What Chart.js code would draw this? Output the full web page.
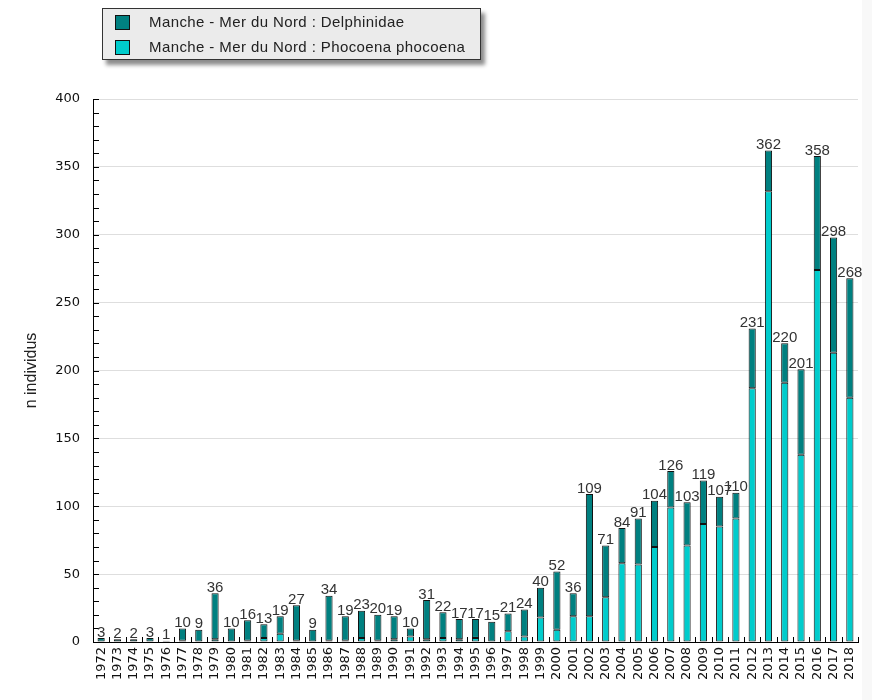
<!DOCTYPE html>
<html>
<head>
<meta charset="utf-8">
<script src="https://cdn.jsdelivr.net/npm/chart.js@4/dist/chart.umd.min.js"></script>
<style>
  html, body { margin: 0; padding: 0; background: #fff; }
  #wrap { position: relative; width: 872px; height: 700px; overflow: hidden; }
  #chart { position: absolute; left: 0; top: 0; }
  #strip { position: absolute; left: 862px; top: 0; width: 10px; height: 700px; background: #f8f8f8; }
  #legend {
    position: absolute; left: 102px; top: 8px; width: 379px; height: 52px;
    background: #ebebeb; border: 1px solid #333; box-sizing: border-box;
    box-shadow: 4px 5px 4px rgba(0,0,0,0.45);
    font: 15px "Liberation Sans", Arial, sans-serif; letter-spacing: 0.4px; color: #222;
  }
  .item { position: absolute; left: 12px; height: 16px; line-height: 16px; white-space: nowrap; }
  .sw { position: absolute; left: 0; top: 0; width: 13px; height: 13px; border: 1px solid #111; }
  .txt { position: absolute; left: 34px; top: -1px; }
</style>
</head>
<body>
<div id="wrap">
  <div id="strip"></div>
  <canvas id="chart" width="872" height="700"></canvas>
  <div id="legend">
    <div class="item" style="top:6px"><span class="sw" style="background:#008080"></span><span class="txt">Manche - Mer du Nord : Delphinidae</span></div>
    <div class="item" style="top:31px"><span class="sw" style="background:#00cccc"></span><span class="txt">Manche - Mer du Nord : Phocoena phocoena</span></div>
  </div>
</div>
<script>
// Strandings per year, two species groups, stacked (Phocoena at bottom).
const years = [];
for (let y = 1972; y <= 2018; y++) years.push(String(y));

const phocoena = [
  0, 0, 0, 0, 0, 1, 0, 2, 0, 1,
  3, 6, 1, 0, 1, 1, 3, 1, 2, 4,
  2, 3, 2, 3, 0, 8, 4, 18, 9, 19,
  19, 33, 58, 57, 70, 99, 71, 87, 85, 91,
  187, 332, 191, 138, 274, 213, 180
];
const delphinidae = [
  3, 2, 2, 3, 1, 9, 9, 34, 10, 15,
  10, 13, 26, 9, 33, 18, 20, 19, 17, 6,
  29, 19, 15, 14, 15, 13, 20, 22, 43, 17,
  90, 38, 26, 34, 34, 27, 32, 32, 22, 19,
  44, 30, 29, 63, 84, 85, 88
];
const yTicks = [0, 50, 100, 150, 200, 250, 300, 350, 400];

const COLORS = { delph: '#008080', phoc: '#00cccc', edge: '#111111' };
const TXT = '#333';

// inside tick marks (minor every 10 on y, category boundaries on x) + totals above bars
const decoPlugin = {
  id: 'deco',
  afterDatasetsDraw(chart) {
    const ctx = chart.ctx;
    const ca = chart.chartArea;
    const xs = chart.scales.x, ys = chart.scales.y;
    ctx.save();
    ctx.strokeStyle = '#000';
    ctx.lineWidth = 1;
    for (let v = 0; v <= 400; v += 10) {
      const py = Math.round(ys.getPixelForValue(v)) + 0.5;
      ctx.beginPath();
      ctx.moveTo(ca.left, py);
      ctx.lineTo(ca.left + 6, py);
      ctx.stroke();
    }
    const step = xs.getPixelForValue(1) - xs.getPixelForValue(0);
    for (let i = 0; i < years.length; i++) {
      const px = Math.round(xs.getPixelForValue(i) + step / 2) + 0.5;
      ctx.beginPath();
      ctx.moveTo(px, ca.bottom);
      ctx.lineTo(px, ca.bottom - 5);
      ctx.stroke();
    }
    const top = chart.getDatasetMeta(1);
    ctx.fillStyle = TXT;
    ctx.font = '15px "Liberation Sans", Arial, sans-serif';
    ctx.textAlign = 'center';
    ctx.textBaseline = 'bottom';
    top.data.forEach((bar, i) => {
      const total = phocoena[i] + delphinidae[i];
      ctx.fillText(String(total), bar.x, bar.y + 2);
    });
    ctx.restore();
  }
};

new Chart(document.getElementById('chart'), {
  type: 'bar',
  data: {
    labels: years,
    datasets: [
      {
        label: 'Manche - Mer du Nord : Phocoena phocoena',
        data: phocoena,
        backgroundColor: COLORS.phoc,
        borderColor: COLORS.edge,
        borderWidth: 1,
        borderSkipped: false,
        barPercentage: 0.44,
        categoryPercentage: 1,
      },
      {
        label: 'Manche - Mer du Nord : Delphinidae',
        data: delphinidae,
        backgroundColor: COLORS.delph,
        borderColor: COLORS.edge,
        borderWidth: 1,
        borderSkipped: false,
        barPercentage: 0.44,
        categoryPercentage: 1,
      }
    ]
  },
  options: {
    responsive: false,
    animation: false,
    layout: { padding: { left: 18, right: 14, top: 99, bottom: 0 } },
    plugins: { legend: { display: false }, tooltip: { enabled: false } },
    scales: {
      x: {
        stacked: true,
        grid: { display: false, drawTicks: false },
        border: { display: true, color: '#000' },
        ticks: {
          autoSkip: false, minRotation: 90, maxRotation: 90, padding: 5,
          color: '#111', font: { family: 'DejaVu Sans', size: 13 }
        },
        afterFit: s => { s.height = 58; }
      },
      y: {
        stacked: true,
        min: 0, max: 400,
        afterBuildTicks: s => { s.ticks = yTicks.map(v => ({ value: v })); },
        grid: { color: '#dedede', drawTicks: false },
        border: { display: true, color: '#000' },
        ticks: { padding: 13, color: '#111', font: { family: 'DejaVu Sans', size: 13 } },
        title: { display: true, text: 'n individus', color: '#222', font: { family: 'Liberation Sans', size: 16 } },
        afterFit: s => { s.width = 75; }
      }
    }
  },
  plugins: [decoPlugin]
});
</script>
</body>
</html>
